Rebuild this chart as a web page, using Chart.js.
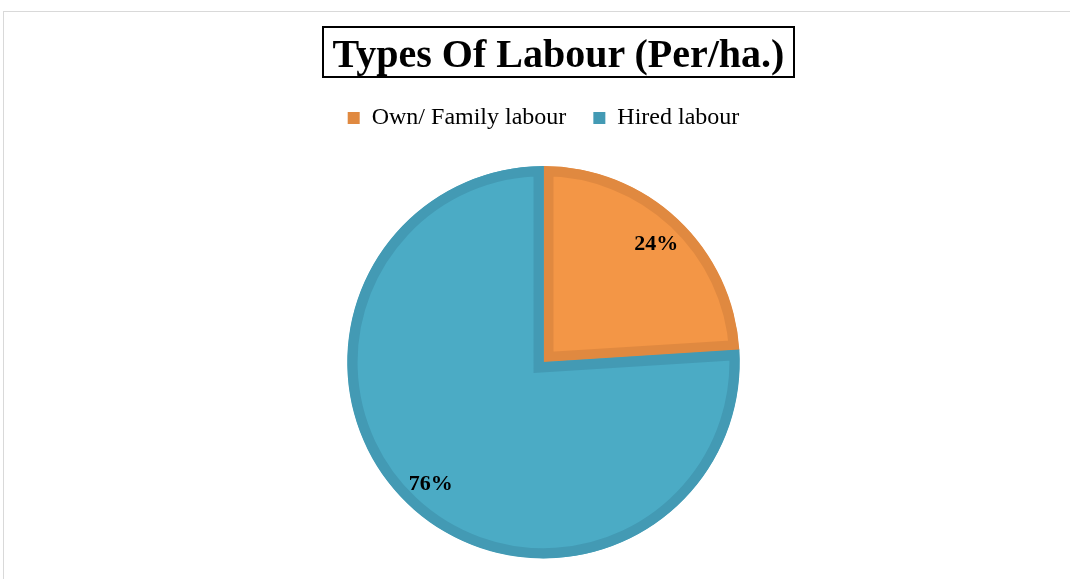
<!DOCTYPE html>
<html>
<head>
<meta charset="utf-8">
<script src="https://cdn.jsdelivr.net/npm/chart.js@4.4.1/dist/chart.umd.min.js"></script>
<style>
    html, body { margin: 0; padding: 0; background: #fff; }
    body { width: 1070px; height: 579px; position: relative; overflow: hidden; }
    #cornice { position: absolute; left: 3px; top: 11px; width: 1200px; height: 700px; border: 1px solid #d9d9d9; }
    #titolo {
        position: absolute; left: 322px; top: 26px; width: 469px; height: 48px;
        border: 2px solid #000; text-align: center; line-height: 52px;
        font-family: 'Liberation Serif', 'Times New Roman', serif; font-weight: bold; font-size: 40px; color: #000;
        white-space: nowrap;
    }
    #grafico { position: absolute; left: 0; top: 0; }
</style>
</head>
<body>
<div id="cornice"></div>
<canvas id="grafico" width="1070" height="579"></canvas>
<div id="titolo">Types Of Labour (Per/ha.)</div>
<script>
    const categorie = ['Own/ Family labour', 'Hired labour'];
    const percentuali = [24, 76];
    const etichette = ['24%', '76%'];

    const coloriRiempimento = ['#F39646', '#4BABC5'];
    const coloriBordo = ['#E08940', '#439AB4'];

    // spazio extra sotto la legenda, come nell'originale
    const margineLegenda = {
        id: 'margineLegenda',
        beforeInit(chart) {
            const fitOriginale = chart.legend.fit;
            chart.legend.fit = function () {
                fitOriginale.bind(chart.legend)();
                this.height += 26;
            };
        }
    };

    // percentuali scritte dentro le fette
    const etichetteFette = {
        id: 'etichetteFette',
        afterDatasetsDraw(chart) {
            const ctx = chart.ctx;
            const meta = chart.getDatasetMeta(0);
            ctx.save();
            ctx.font = 'bold 22px "Liberation Serif", "Times New Roman", serif';
            ctx.fillStyle = '#000';
            ctx.textAlign = 'center';
            ctx.textBaseline = 'middle';
            meta.data.forEach((arco, i) => {
                const p = arco.getProps(['x', 'y', 'startAngle', 'endAngle', 'outerRadius'], true);
                const medio = (p.startAngle + p.endAngle) / 2;
                const r = p.outerRadius * 0.84;
                // +2: il centro ottico delle cifre sta un po' più in basso
                ctx.fillText(etichette[i], p.x + Math.cos(medio) * r, p.y + Math.sin(medio) * r + 2);
            });
            ctx.restore();
        }
    };

    new Chart(document.getElementById('grafico'), {
        type: 'pie',
        data: {
            labels: categorie,
            datasets: [{
                data: percentuali,
                backgroundColor: coloriRiempimento,
                borderColor: coloriBordo,
                borderWidth: 10,
                borderAlign: 'inner',
                borderJoinStyle: 'miter',
                hoverOffset: 0
            }]
        },
        options: {
            responsive: false,
            animation: false,
            layout: { padding: { top: 79, bottom: 20.5, left: 17, right: 0 } },
            plugins: {
                legend: {
                    position: 'top',
                    labels: {
                        color: '#000',
                        font: { family: "'Liberation Serif', 'Times New Roman', serif", size: 24 },
                        boxWidth: 12,
                        boxHeight: 12,
                        padding: 27,
                        // quadratini pieni, senza il bordo spesso delle fette
                        generateLabels(chart) {
                            const base = Chart.controllers.pie.overrides.plugins.legend.labels.generateLabels(chart);
                            return base.map((item, i) => ({
                                ...item,
                                fillStyle: coloriBordo[i],
                                strokeStyle: coloriBordo[i],
                                lineWidth: 0
                            }));
                        }
                    }
                },
                tooltip: { enabled: false }
            }
        },
        plugins: [margineLegenda, etichetteFette]
    });
</script>
</body>
</html>
